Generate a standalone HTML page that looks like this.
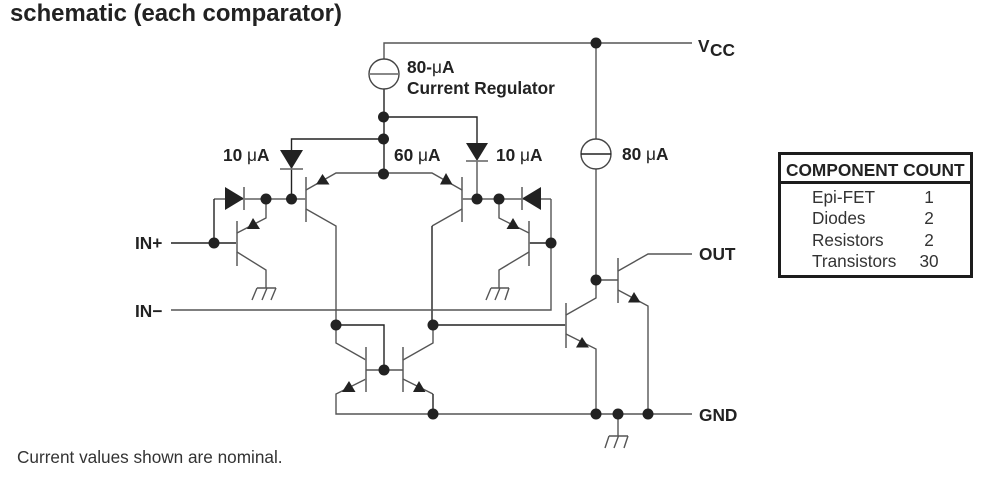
<!DOCTYPE html>
<html>
<head>
<meta charset="utf-8">
<style>
html,body{margin:0;padding:0;background:#fff;width:995px;height:481px;overflow:hidden}
svg{display:block}
text{font-family:"Liberation Sans",sans-serif;fill:#222}
.b{font-weight:bold}
.m{font-weight:normal}
.w{fill:none;stroke:#555;stroke-width:1.4}
.d{fill:none;stroke:#222;stroke-width:1.4}
.g{fill:none;stroke:#777;stroke-width:1.8}
</style>
</head>
<body>
<svg width="995" height="481" viewBox="0 0 995 481" xmlns="http://www.w3.org/2000/svg">
<rect width="995" height="481" fill="#fff"/>
<text x="10" y="21" class="b" font-size="23.9">schematic (each comparator)</text>

<!-- rails -->
<path class="w" d="M384 59V43H692"/>
<path class="d" d="M384 89V174"/>
<path class="w" d="M596 43V139M596 169V280"/>
<path class="d" d="M291.500 169V139H383"/>
<path class="d" d="M383 117H477V143"/>
<path class="w" d="M477 161V199"/>
<path class="d" d="M291.500 169V199"/>

<!-- current sources -->
<circle cx="384" cy="74" r="15" fill="#fff" stroke="#444" stroke-width="1.4"/>
<path class="g" d="M369 74H399"/>
<circle cx="596" cy="154" r="15" fill="#fff" stroke="#444" stroke-width="1.4"/>
<path class="d" d="M581 154H611"/>

<!-- input PNP pair -->
<path class="g" d="M306 177V222M462 177V222"/>
<path class="w" d="M383 173H336L306 190M306 209L336 226V325"/>
<path class="w" d="M383 173H432L462 190"/>
<path class="w" d="M462 209L432 226"/>
<path class="d" d="M432 226V325"/>

<!-- input horizontal lines -->
<path class="g" d="M214 199H306M477 199H551"/>
<path class="g" d="M462 199H477"/>
<path class="d" d="M214 199V243"/>
<path class="d" d="M171 243H236"/>
<path class="w" d="M171 310H551V199"/>
<path class="d" d="M529 243H551"/>

<!-- small transistors -->
<path class="g" d="M237 221V266"/>
<path class="w" d="M237 233L266 218V199M237 252L266 270V288"/>
<path class="g" d="M529 221V266"/>
<path class="w" d="M529 233L499 218V199M529 252L499 270V288"/>

<!-- grounds -->
<path class="w" d="M257 288H276M257 288L252 300M267 288L262 300M276 288L271 300"/>
<path class="w" d="M491 288H509M491 288L486 300M500 288L495 300M509 288L505 300"/>
<path class="w" d="M618 414V436M609 436H628M609 436L605 448M618.500 436L614 448M628 436L624 448"/>

<!-- current mirror -->
<path class="w" d="M336 325V343L366 360M366 379L336 394V414H692"/>
<path class="d" d="M336 325H384V370"/>
<path class="g" d="M366 347V392M403 347V392"/>
<path class="w" d="M366 370H403"/>
<path class="w" d="M403 360L433 343V325M403 379L433 394"/>
<path class="d" d="M433 394V414"/>
<path class="d" d="M433 325H566"/>

<!-- output transistors -->
<path class="g" d="M566 303V348M618 258V303"/>
<path class="w" d="M566 315L596 298V280"/>
<path class="w" d="M566 334L596 349V414"/>
<path class="w" d="M596 280H618"/>
<path class="w" d="M618 271L648 254H692"/>
<path class="w" d="M618 290L648 306V414"/>

<!-- diodes -->
<path fill="#222" d="M280 150H303L291.500 169Z"/>
<path class="g" d="M280 169H303"/>
<path fill="#222" d="M466 143H488L477 161Z"/>
<path class="g" d="M466 161H488"/>
<path fill="#222" d="M225 187V210L244 198.500Z"/>
<path class="g" d="M244 187V210"/>
<path fill="#222" d="M541 187V210L522 198.500Z"/>
<path class="g" d="M522 187V210"/>

<!-- emitter arrows -->
<g fill="#222">
<path d="M322.500 174L316 184.500H329.500Z"/>
<path d="M446 173L440 184.500H452.500Z"/>
<path d="M253 218L247 229H260Z"/>
<path d="M513 218L506.500 229H519.500Z"/>
<path d="M349 381L342 392H355.500Z"/>
<path d="M419 381L413 392H425.500Z"/>
<path d="M582 337L576 347.500H589Z"/>
<path d="M634 292L628 302.500H640.500Z"/>
</g>

<!-- junction dots -->
<g fill="#222">
<circle cx="596" cy="43" r="5.500"/>
<circle cx="383.500" cy="117" r="5.500"/>
<circle cx="383.500" cy="139" r="5.500"/>
<circle cx="383.500" cy="174" r="5.500"/>
<circle cx="266" cy="199" r="5.500"/>
<circle cx="291.500" cy="199" r="5.500"/>
<circle cx="477" cy="199" r="5.500"/>
<circle cx="499" cy="199" r="5.500"/>
<circle cx="214" cy="243" r="5.500"/>
<circle cx="551" cy="243" r="5.500"/>
<circle cx="596" cy="280" r="5.500"/>
<circle cx="336" cy="325" r="5.500"/>
<circle cx="433" cy="325" r="5.500"/>
<circle cx="384" cy="370" r="5.500"/>
<circle cx="433" cy="414" r="5.500"/>
<circle cx="596" cy="414" r="5.500"/>
<circle cx="618" cy="414" r="5.500"/>
<circle cx="648" cy="414" r="5.500"/>
</g>

<!-- labels -->
<g class="b" font-size="17.300">
<text x="407" y="73">80-<tspan class="m">μ</tspan>A</text>
<text x="407" y="94">Current Regulator</text>
<text x="223" y="161">10 <tspan class="m">μ</tspan>A</text>
<text x="394" y="161">60 <tspan class="m">μ</tspan>A</text>
<text x="496" y="161">10 <tspan class="m">μ</tspan>A</text>
<text x="622" y="160">80 <tspan class="m">μ</tspan>A</text>
<text x="135" y="249">IN+</text>
<text x="135" y="317">IN−</text>
<text x="699" y="260">OUT</text>
<text x="699" y="421">GND</text>
<text x="698" y="52">V</text>
<text x="710" y="56">CC</text>
</g>

<!-- component count -->
<rect x="779.500" y="153.500" width="192" height="123" fill="#fff" stroke="#1c1c1c" stroke-width="3"/>
<path d="M779 182.500H972" stroke="#1c1c1c" stroke-width="3"/>
<text x="786" y="176" class="b" font-size="17.300">COMPONENT COUNT</text>
<g font-size="17.200">
<text x="812" y="203" style="fill:#333">Epi-FET</text>
<text x="812" y="224" style="fill:#333">Diodes</text>
<text x="812" y="246" style="fill:#333">Resistors</text>
<text x="812" y="267" style="fill:#333">Transistors</text>
<text x="929" y="203" text-anchor="middle" style="fill:#333">1</text>
<text x="929" y="224" text-anchor="middle" style="fill:#333">2</text>
<text x="929" y="246" text-anchor="middle" style="fill:#333">2</text>
<text x="929" y="267" text-anchor="middle" style="fill:#333">30</text>
</g>

<text x="17" y="463" font-size="17.200" style="fill:#333">Current values shown are nominal.</text>
</svg>
</body>
</html>
